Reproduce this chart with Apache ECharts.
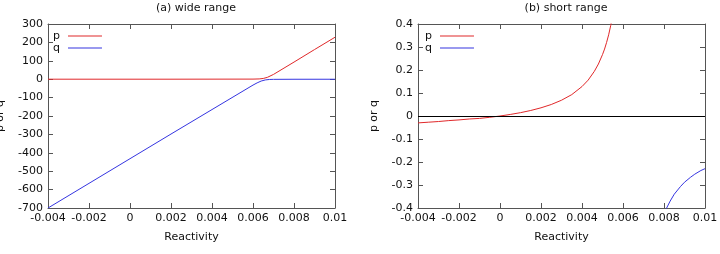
<!DOCTYPE html>
<html>
<head>
<meta charset="utf-8">
<script src="https://cdn.jsdelivr.net/npm/echarts@6/dist/echarts.min.js"></script>
<style>
  html, body { margin: 0; padding: 0; background: #fff; }
  #chart { width: 720px; height: 254px; }
</style>
</head>
<body>
<div id="chart"></div>
<script>
// panel (a) wide range
const wideP = [[-0.004, 0], [0.002, 0], [0.006, 0.5], [0.0063, 1.5], [0.0065, 4], [0.0067, 10], [0.007, 26], [0.008, 93], [0.009, 161], [0.01, 228]]
const wideQ = [[-0.004, -700], [-0.002, -566], [0, -432], [0.002, -298], [0.004, -165], [0.006, -32], [0.0062, -20], [0.0064, -10], [0.0066, -4], [0.0068, -1.5], [0.007, -0.8], [0.008, -0.3], [0.01, -0.2]]
// panel (b) short range
const shortP = [[-0.004, -0.030], [-0.0035, -0.027], [-0.003, -0.024], [-0.0025, -0.020], [-0.002, -0.017], [-0.0015, -0.013], [-0.001, -0.0105], [-0.0005, -0.0056], [0, 0], [0.0005, 0.0067], [0.001, 0.0145], [0.0015, 0.024], [0.002, 0.0356], [0.0025, 0.050], [0.003, 0.0686], [0.0035, 0.093], [0.004, 0.128], [0.0043, 0.156], [0.0046, 0.194], [0.0048, 0.226], [0.005, 0.267], [0.0051, 0.291], [0.0052, 0.320], [0.0053, 0.353], [0.0054, 0.393], [0.0055, 0.44]]
const shortQ = [[0.0079, -0.42], [0.0081, -0.405], [0.0083, -0.37], [0.0085, -0.34], [0.0088, -0.307], [0.009, -0.288], [0.0093, -0.266], [0.0095, -0.253], [0.0098, -0.237], [0.01, -0.229]]

const xTicks = [-0.004, 0.01, 0.002]   // min, max, step
const wideTicks = [-700, 300, 100]
const shortTicks = [-0.4, 0.4, 0.1]

const FONT = 'DejaVu Sans'
const FS = 11
const TXT = '#111'
const RED = '#e0282a'
const BLUE = '#3535e0'
const FRAME = '#555'

const fmtX = v => {
  const r = Math.round(v * 1000) / 1000
  return r === 0 ? '0' : String(r)
}
const fmtY = v => {
  const r = Math.round(v * 10) / 10
  return r === 0 ? '0' : String(r)
}

const grids = [
  { left: 48, right: 385, top: 24, bottom: 46, outerBoundsMode: 'none', containLabel: false },
  { left: 418, right: 15, top: 24, bottom: 46, outerBoundsMode: 'none', containLabel: false }
]

const xAxes = []
const yAxes = []
grids.forEach((g, i) => {
  const base = {
    gridIndex: i,
    type: 'value',
    min: xTicks[0],
    max: xTicks[1],
    interval: xTicks[2],
    splitLine: { show: false },
    axisTick: { show: true, inside: true, length: 5, lineStyle: { color: FRAME } },
    axisLine: { show: true, onZero: false, lineStyle: { color: FRAME, width: 1 } }
  }
  xAxes.push({
    ...base,
    position: 'bottom',
    name: 'Reactivity',
    nameLocation: 'middle',
    nameGap: 24,
    nameTextStyle: { fontFamily: FONT, fontSize: FS, color: TXT },
    axisLabel: { fontFamily: FONT, fontSize: FS, color: TXT, margin: 5, formatter: fmtX }
  })
  xAxes.push({ ...base, position: 'top', axisLabel: { show: false } })

  const t = i === 0 ? wideTicks : shortTicks
  const ybase = {
    gridIndex: i,
    type: 'value',
    min: t[0],
    max: t[1],
    interval: t[2],
    splitLine: { show: false },
    axisTick: { show: true, inside: true, length: 5, lineStyle: { color: FRAME } },
    axisLine: { show: true, onZero: false, lineStyle: { color: FRAME, width: 1 } }
  }
  yAxes.push({
    ...ybase,
    position: 'left',
    name: 'p or q',
    nameLocation: 'middle',
    nameGap: i === 0 ? 42 : 38,
    nameTextStyle: { fontFamily: FONT, fontSize: FS, color: TXT },
    axisLabel: { fontFamily: FONT, fontSize: FS, color: TXT, margin: 5, formatter: i === 0 ? undefined : fmtY }
  })
  yAxes.push({ ...ybase, position: 'right', axisLabel: { show: false } })
})

const lineSeries = (name, data, color, panel) => ({
  name,
  type: 'line',
  xAxisIndex: panel * 2,
  yAxisIndex: panel * 2,
  data,
  showSymbol: false,
  symbol: 'none',
  clip: true,
  animation: false,
  lineStyle: { color, width: 1 },
  itemStyle: { color }
})

const zeroLine = lineSeries('', [], '#000', 1)
zeroLine.markLine = {
  silent: true,
  symbol: 'none',
  label: { show: false },
  lineStyle: { color: '#000', width: 1, type: 'solid' },
  data: [{ yAxis: 0 }]
}

const legendBase = {
  orient: 'vertical',
  align: 'right',
  icon: 'rect',
  itemWidth: 34,
  itemHeight: 1,
  itemGap: 0,
  padding: 0,
  data: ['p', 'q'],
  textStyle: { fontFamily: FONT, fontSize: FS, color: TXT, lineHeight: 12, padding: [0, 3, 0, 0] }
}

const titleStyle = { fontFamily: FONT, fontSize: FS, fontWeight: 'normal', color: TXT }

const chart = echarts.init(document.getElementById('chart'), null, { renderer: 'canvas' })
chart.setOption({
  animation: false,
  backgroundColor: '#fff',
  title: [
    { text: '(a) wide range', left: 191, top: -2, textAlign: 'center', textStyle: titleStyle },
    { text: '(b) short range', left: 561, top: -2, textAlign: 'center', textStyle: titleStyle }
  ],
  legend: [
    { ...legendBase, left: 53, top: 30 },
    { ...legendBase, left: 425, top: 30 }
  ],
  grid: grids,
  xAxis: xAxes,
  yAxis: yAxes,
  series: [
    lineSeries('p', wideP, RED, 0),
    lineSeries('q', wideQ, BLUE, 0),
    zeroLine,
    lineSeries('p', shortP, RED, 1),
    lineSeries('q', shortQ, BLUE, 1)
  ]
})
</script>
</body>
</html>
